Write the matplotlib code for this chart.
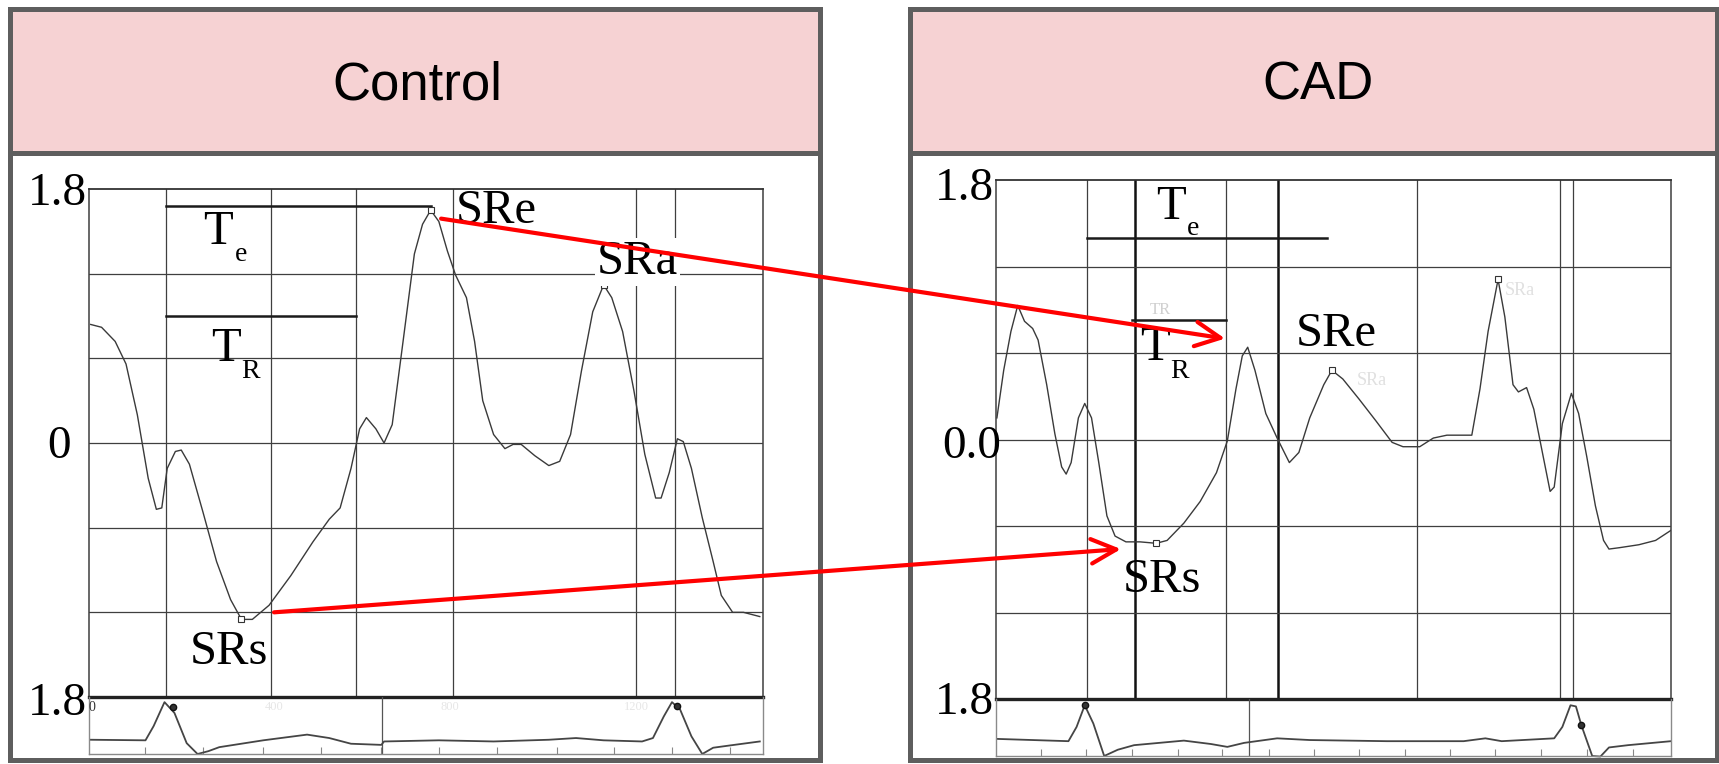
import matplotlib
matplotlib.use('Agg')
import matplotlib.pyplot as plt
from matplotlib.patches import Rectangle, ConnectionPatch
from matplotlib.lines import Line2D

W, H = 1719, 764
SERIF = ['Liberation Serif', 'DejaVu Serif']
SANS = ['Liberation Sans', 'DejaVu Sans']
plt.rcParams['font.family'] = SERIF

# ---------------- data ----------------
panel_titles = ['Control', 'CAD']

# Control strain-rate curve (time ms, SR 1/s)
ctrl_t = [4, 28, 58, 82, 107, 131, 149, 161, 173, 191, 204, 222, 252, 282, 313, 337, 361, 398,
          446, 495, 531, 555, 579, 598, 613, 634, 652, 670, 694, 719, 737, 755, 773, 792, 810,
          834, 852, 870, 894, 919, 937, 955, 985, 1016, 1040, 1064, 1088, 1113, 1137, 1155,
          1179, 1204, 1228, 1252, 1264, 1282, 1300, 1313, 1331, 1355, 1379, 1397, 1422, 1446, 1482]
ctrl_sr = [0.84, 0.82, 0.72, 0.56, 0.20, -0.25, -0.47, -0.46, -0.18, -0.06, -0.05, -0.15, -0.49,
           -0.84, -1.11, -1.25, -1.25, -1.15, -0.94, -0.70, -0.54, -0.46, -0.18, 0.10, 0.18, 0.10,
           0.0, 0.13, 0.72, 1.34, 1.55, 1.65, 1.57, 1.36, 1.19, 1.03, 0.72, 0.30, 0.06, -0.04,
           -0.01, -0.01, -0.09, -0.16, -0.13, 0.06, 0.51, 0.93, 1.12, 1.03, 0.79, 0.37, -0.08,
           -0.39, -0.39, -0.21, 0.03, 0.01, -0.18, -0.53, -0.84, -1.08, -1.20, -1.20, -1.23]
ctrl_peak_t = [337, 755, 1137]
ctrl_peak_sr = [-1.25, 1.65, 1.12]
ctrl_grid_t = [171, 402, 591, 805, 1208, 1294]
ctrl_xmax = 1488

# CAD strain-rate curve
cad_t = [2, 17, 33, 48, 63, 81, 93, 112, 130, 145, 155, 166, 182, 196, 211, 227, 245, 263, 287,
         318, 354, 378, 415, 451, 487, 511, 530, 544, 556, 572, 596, 621, 648, 669, 693, 724,
         742, 766, 802, 839, 875, 899, 936, 966, 996, 1021, 1051, 1069, 1087, 1109, 1124, 1142,
         1154, 1172, 1188, 1205, 1224, 1233, 1251, 1271, 1287, 1305, 1324, 1342, 1354, 1378,
         1420, 1457, 1491]
cad_sr = [0.15, 0.48, 0.75, 0.93, 0.82, 0.77, 0.69, 0.38, 0.04, -0.19, -0.24, -0.16, 0.15, 0.25,
          0.15, -0.16, -0.53, -0.67, -0.71, -0.71, -0.72, -0.70, -0.58, -0.43, -0.23, -0.01,
          0.35, 0.58, 0.64, 0.48, 0.18, 0.01, -0.16, -0.09, 0.15, 0.38, 0.48, 0.42, 0.28, 0.13,
          -0.02, -0.05, -0.05, 0.01, 0.03, 0.03, 0.03, 0.35, 0.75, 1.11, 0.85, 0.38, 0.33, 0.36,
          0.21, -0.06, -0.36, -0.33, 0.11, 0.32, 0.18, -0.12, -0.46, -0.70, -0.76, -0.75, -0.73,
          -0.70, -0.63]
cad_peak_t = [354, 742, 1109]
cad_peak_sr = [-0.72, 0.48, 1.11]
cad_grid_t = [200, 509, 931, 1245, 1275]
cad_dark_t = [308, 623]
cad_xmax = 1491

# ECG strips (time ms, relative amplitude)
ecg_ctrl_t = [4, 125, 143, 167, 189, 216, 240, 264, 288, 385, 482, 531, 579, 646, 652, 773, 894,
              1016, 1076, 1137, 1222, 1246, 1270, 1288, 1306, 1331, 1355, 1379, 1416, 1482]
ecg_ctrl_v = [0.25, 0.24, 0.49, 0.91, 0.72, 0.19, 0.0, 0.05, 0.12, 0.24, 0.34, 0.28, 0.18, 0.16,
              0.22, 0.24, 0.22, 0.25, 0.28, 0.24, 0.22, 0.28, 0.66, 0.91, 0.78, 0.31, 0.0, 0.11,
              0.15, 0.22]
ecg_ctrl_dot_t = [185, 1300]
ecg_ctrl_dot_v = [0.82, 0.84]
ecg_ctrl_ticks = [125, 252, 385, 513, 646, 773, 901, 1034, 1161, 1288, 1416]
ecg_ctrl_mark = 648

ecg_cad_t = [2, 160, 178, 196, 215, 239, 269, 305, 415, 475, 511, 548, 621, 693, 863, 1033, 1081,
             1117, 1233, 1251, 1269, 1281, 1293, 1317, 1335, 1354, 1396, 1491]
ecg_cad_v = [0.30, 0.26, 0.51, 0.89, 0.57, 0.0, 0.11, 0.19, 0.27, 0.21, 0.16, 0.23, 0.31, 0.28,
             0.26, 0.26, 0.31, 0.26, 0.31, 0.51, 0.89, 0.87, 0.54, 0.0, -0.01, 0.15, 0.19, 0.26]
ecg_cad_dot_t = [196, 1293]
ecg_cad_dot_v = [0.89, 0.54]
ecg_cad_ticks = [99, 199, 300, 401, 499, 602, 703, 802, 903, 1002, 1103, 1203, 1305, 1406]
ecg_cad_mark = 558

h_grid = [1.2, 0.6, 0.0, -0.6, -1.2]

# ---------------- styles ----------------
PINK = '#F6D2D3'
FRAME = '#5E5E5E'
GRID = '#3f3f3f'
CURVE = '#3a3a3a'
RED = '#FF0000'

fig = plt.figure(figsize=(W / 100, H / 100), dpi=100)
fig.patch.set_facecolor('white')


def frect(x0, y0, x1, y1, **kw):
    r = Rectangle((x0 / W, 1 - y1 / H), (x1 - x0) / W, (y1 - y0) / H,
                  transform=fig.transFigure, **kw)
    fig.add_artist(r)


def fline(x0, y0, x1, y1, **kw):
    fig.add_artist(Line2D([x0 / W, x1 / W], [1 - y0 / H, 1 - y1 / H],
                          transform=fig.transFigure, **kw))


def ftext(x, y, s, **kw):
    fig.text(x / W, 1 - y / H, s, **kw)


def add_ax(x0, y0, x1, y1):
    ax = fig.add_axes([x0 / W, 1 - y1 / H, (x1 - x0) / W, (y1 - y0) / H])
    ax.set_facecolor('none')
    for s in ax.spines.values():
        s.set_visible(False)
    ax.set_xticks([])
    ax.set_yticks([])
    return ax


# panels
panels = [(9.5, 819.5, 417), (909.5, 1716.5, 1318)]
for (x0, x1, xc), title in zip(panels, panel_titles):
    frect(x0, 8.5, x1, 152.5, facecolor=PINK, edgecolor='none', zorder=0)
    frect(x0, 8.5, x1, 760, facecolor='none', edgecolor=FRAME, lw=3.6, zorder=30)
    fline(x0, 152.5, x1, 152.5, color=FRAME, lw=3.6, zorder=30)
    ftext(xc, 100, title, ha='center', va='baseline', fontsize=38, family=SANS, color='black')


def main_chart(ax, t, sr, grid_t, xmax, pk_t, pk_sr, dark_t=()):
    ax.set_xlim(0, xmax)
    ax.set_ylim(-1.8, 1.8)
    for gt in grid_t:
        ax.axvline(gt, color=GRID, lw=0.9, zorder=1)
    for gt in dark_t:
        ax.axvline(gt, color='#111111', lw=1.8, zorder=1)
    for hy in h_grid:
        ax.axhline(hy, color=GRID, lw=0.9, zorder=1)
    ax.axvline(0, color=GRID, lw=1.1, zorder=1, clip_on=False)
    ax.axvline(xmax, color=GRID, lw=1.1, zorder=1, clip_on=False)
    ax.axhline(1.8, color='#333333', lw=1.3, zorder=1, clip_on=False)
    ax.axhline(-1.8, color='#222222', lw=2.4, zorder=2, clip_on=False)
    ax.plot(t, sr, color=CURVE, lw=1.0, zorder=3)
    ax.plot(pk_t, pk_sr, ls='none', marker='s', ms=4.5, mfc='white', mec='#333333',
            mew=0.8, zorder=4)


def strip(ax, t, v, xmax, ticks, mark, dot_t, dot_v):
    ax.set_xlim(0, xmax)
    ax.set_ylim(0, 1)
    for side in ('bottom', 'left', 'right'):
        ax.spines[side].set_visible(True)
        ax.spines[side].set_color('#8a8a8a')
        ax.spines[side].set_linewidth(1.0)
    ax.set_xticks(ticks)
    ax.set_xticklabels([])
    ax.tick_params(axis='x', direction='in', length=5, width=0.8, color='#888888')
    ax.axvline(mark, color='#555555', lw=0.9)
    ax.plot(t, v, color='#454545', lw=1.3, clip_on=False)
    ax.plot(dot_t, dot_v, ls='none', marker='o', ms=4.5, mfc='#333333', mec='#111111')


# ---- Control ----
ax_c = add_ax(88.9, 189, 762.5, 697)
main_chart(ax_c, ctrl_t, ctrl_sr, ctrl_grid_t, ctrl_xmax, ctrl_peak_t, ctrl_peak_sr)
sc = add_ax(88.9, 697, 762.5, 754)
strip(sc, ecg_ctrl_t, ecg_ctrl_v, ctrl_xmax, ecg_ctrl_ticks, ecg_ctrl_mark,
      ecg_ctrl_dot_t, ecg_ctrl_dot_v)
sc.text(0, 0.82, '0', fontsize=10, ha='left', va='center', color='#333333')
for xt, lab in [(410, '400'), (797, '800'), (1210, '1200')]:
    sc.text(xt, 0.82, lab, fontsize=9, ha='center', va='center', color='#e6e6e6')

ax_c.plot([171, 755], [1.68, 1.68], color='#1a1a1a', lw=1.8, zorder=3)
ax_c.plot([171, 589], [0.90, 0.90], color='#1a1a1a', lw=1.8, zorder=3)
ax_c.text(252, 1.41, 'T', fontsize=35, va='baseline', ha='left')
ax_c.text(322, 1.29, 'e', fontsize=20, va='baseline', ha='left')
ax_c.text(270, 0.578, 'T', fontsize=35, va='baseline', ha='left')
ax_c.text(337, 0.46, 'R', fontsize=20, va='baseline', ha='left')
ax_c.text(811, 1.56, 'SRe', fontsize=35, va='baseline', ha='left', zorder=5)
ax_c.text(1122, 1.20, 'SRa', fontsize=35, va='baseline', ha='left', zorder=5,
          bbox=dict(facecolor='white', edgecolor='none', pad=1.5))
ax_c.text(222, -1.565, 'SRs', fontsize=35, va='baseline', ha='left', zorder=5)

ftext(87, 205, '1.8', fontsize=34, ha='right', va='baseline')
ftext(71, 458, '0', fontsize=34, ha='right', va='baseline')
ftext(87, 715, '1.8', fontsize=34, ha='right', va='baseline')

# ---- CAD ----
ax_d = add_ax(996, 180, 1671, 699)
main_chart(ax_d, cad_t, cad_sr, cad_grid_t, cad_xmax, cad_peak_t, cad_peak_sr, cad_dark_t)
sd = add_ax(996, 699, 1671, 756)
strip(sd, ecg_cad_t, ecg_cad_v, cad_xmax, ecg_cad_ticks, ecg_cad_mark,
      ecg_cad_dot_t, ecg_cad_dot_v)

ax_d.plot([200, 732], [1.395, 1.395], color='#1a1a1a', lw=1.8, zorder=3)
ax_d.plot([300, 508], [0.83, 0.83], color='#1a1a1a', lw=1.8, zorder=3)
ax_d.text(354, 1.53, 'T', fontsize=35, va='baseline', ha='left')
ax_d.text(421, 1.42, 'e', fontsize=20, va='baseline', ha='left')
ax_d.text(318, 0.55, 'T', fontsize=35, va='baseline', ha='left')
ax_d.text(385, 0.43, 'R', fontsize=20, va='baseline', ha='left')
ax_d.text(340, 0.87, 'TR', fontsize=12, va='baseline', ha='left', color='#d0d0d0')
ax_d.text(663, 0.65, 'SRe', fontsize=35, va='baseline', ha='left', zorder=5)
ax_d.text(279, -1.06, 'SRs', fontsize=35, va='baseline', ha='left', zorder=5)
ax_d.text(1124, 1.0, 'SRa', fontsize=13, va='baseline', ha='left', color='#e0e0e0')
ax_d.text(796, 0.38, 'SRa', fontsize=13, va='baseline', ha='left', color='#e0e0e0')

ftext(994, 200, '1.8', fontsize=34, ha='right', va='baseline')
ftext(1001, 458, '0.0', fontsize=34, ha='right', va='baseline')
ftext(994, 714, '1.8', fontsize=34, ha='right', va='baseline')

# ---- red arrows linking the panels ----
for (ta, va_), (tb, vb) in [((778, 1.59), (506, 0.70)), ((409, -1.20), (276, -0.76))]:
    con = ConnectionPatch(xyA=(ta, va_), coordsA='data', axesA=ax_c,
                          xyB=(tb, vb), coordsB='data', axesB=ax_d,
                          arrowstyle='->,head_length=0.45,head_width=0.22',
                          mutation_scale=40, color=RED, lw=3.0,
                          shrinkA=0, shrinkB=0, zorder=40)
    fig.add_artist(con)

fig.savefig('out.png', dpi=100, facecolor='white')
